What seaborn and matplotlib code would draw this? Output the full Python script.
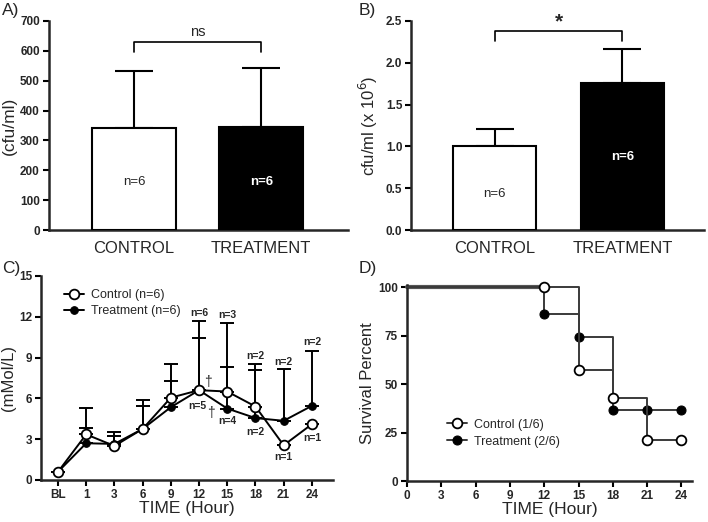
import matplotlib
matplotlib.use('Agg')
import matplotlib.pyplot as plt
import numpy as np
import pandas as pd
import seaborn as sns

sns.set_style('ticks')
plt.rcParams['font.family'] = ['Liberation Sans', 'DejaVu Sans']

# ---- data ----
groups = ['CONTROL', 'TREATMENT']
cfu_a = [341, 345]
cfu_a_sd = [192, 197]
cfu_b = [1.00, 1.76]
cfu_b_sd = [0.21, 0.40]

time_labels = ['BL', '1', '3', '6', '9', '12', '15', '18', '21', '24']
ctrl_lac = [0.6, 3.35, 2.5, 3.75, 6.05, 6.6, 6.5, 5.4, 2.55, 4.1]
trt_lac = [0.6, 2.7, 2.65, 3.75, 5.35, 6.6, 5.25, 4.55, 4.35, 5.45]
ctrl_lac_up = [0, 5.3, 3.5, 5.9, 8.55, 11.7, 11.55, 8.5, 0, 0]
trt_lac_up = [0, 3.8, 3.2, 5.45, 7.3, 10.4, 8.3, 8.05, 8.15, 9.5]

surv_time = [0, 12, 15, 18, 21, 24]
surv_ctrl = [100, 100, 57.1, 42.9, 21.4, 21.4]
surv_trt = [100, 86, 74, 36.5, 36.5, 36.5]

fig = plt.figure(figsize=(7.08, 5.22), dpi=100)
axA = fig.add_axes([0.069, 0.559, 0.423, 0.401])
axB = fig.add_axes([0.581, 0.559, 0.414, 0.401])
axC = fig.add_axes([0.058, 0.0805, 0.412, 0.391])
axD = fig.add_axes([0.575, 0.0785, 0.403, 0.375])

TICK_FS = 8.5


def style(ax):
    sns.despine(ax=ax)
    for s in ['left', 'bottom']:
        ax.spines[s].set_linewidth(1.8)
    ax.tick_params(width=1.5, length=4, color='black', pad=2.5)
    for t in ax.get_yticklabels():
        t.set_fontweight('bold')
        t.set_fontsize(TICK_FS)


# ---- A ----
sns.barplot(x=groups, y=cfu_a, palette=['white', 'black'], hue=groups, legend=False,
            edgecolor='black', linewidth=1.5, width=0.66, ax=axA, zorder=3)
axA.errorbar([0, 1], cfu_a, yerr=[[0, 0], cfu_a_sd], fmt='none', ecolor='black',
             elinewidth=1.5, capsize=14, capthick=1.5, zorder=2)
axA.set_xlim(-0.67, 1.685)
axA.set_ylim(0, 700)
axA.set_yticks(range(0, 701, 100))
axA.set_ylabel('(cfu/ml)', fontsize=12.5, labelpad=2)
axA.plot([0, 0, 1, 1], [595, 628, 628, 595], color='black', lw=1.2, clip_on=False)
axA.text(0.5, 664, 'ns', ha='center', va='center', fontsize=10.5)
axA.text(0, 162, 'n=6', ha='center', va='center', fontsize=9.5)
axA.text(1, 162, 'n=6', ha='center', va='center', fontsize=9.5, color='white', fontweight='bold')
style(axA)
axA.tick_params(axis='x', length=0, labelsize=12, pad=8)

# ---- B ----
sns.barplot(x=groups, y=cfu_b, palette=['white', 'black'], hue=groups, legend=False,
            edgecolor='black', linewidth=1.5, width=0.65, ax=axB, zorder=3)
axB.errorbar([0, 1], cfu_b, yerr=[[0, 0], cfu_b_sd], fmt='none', ecolor='black',
             elinewidth=1.5, capsize=14, capthick=1.5, zorder=2)
axB.set_xlim(-0.655, 1.643)
axB.set_ylim(0, 2.5)
axB.set_yticks(np.arange(0, 2.51, 0.5))
axB.set_yticklabels([f'{v:.1f}' for v in np.arange(0, 2.51, 0.5)])
axB.set_ylabel('cfu/ml (x 10$^{6}$)', fontsize=12, labelpad=4)
axB.plot([0, 0, 1, 1], [2.26, 2.376, 2.376, 2.26], color='black', lw=1.2, clip_on=False)
axB.text(0.5, 2.49, '*', ha='center', va='center', fontsize=15, fontweight='bold')
axB.text(0, 0.43, 'n=6', ha='center', va='center', fontsize=9.5)
axB.text(1, 0.88, 'n=6', ha='center', va='center', fontsize=9.5, color='white', fontweight='bold')
style(axB)
axB.tick_params(axis='x', length=0, labelsize=12, pad=8)

# ---- C ----
pos = np.arange(len(time_labels))
dfc = pd.DataFrame({'pos': np.concatenate([pos, pos]),
                    'val': ctrl_lac + trt_lac,
                    'grp': ['Control (n=6)'] * len(pos) + ['Treatment (n=6)'] * len(pos)})
up_c = np.clip(np.array(ctrl_lac_up) - np.array(ctrl_lac), 0, None)
up_t = np.clip(np.array(trt_lac_up) - np.array(trt_lac), 0, None)
axC.errorbar(pos, trt_lac, yerr=[np.zeros(len(pos)), up_t], fmt='none', ecolor='black',
             elinewidth=1.4, capsize=5, capthick=1.4, zorder=1)
axC.errorbar(pos, ctrl_lac, yerr=[np.zeros(len(pos)), up_c], fmt='none', ecolor='black',
             elinewidth=1.4, capsize=5, capthick=1.4, zorder=1)
sns.lineplot(data=dfc[dfc.grp == 'Treatment (n=6)'], x='pos', y='val', color='black', lw=1.4,
             marker='o', markersize=5.5, markerfacecolor='black', markeredgecolor='black',
             label='Treatment (n=6)', ax=axC, zorder=3)
sns.lineplot(data=dfc[dfc.grp == 'Control (n=6)'], x='pos', y='val', color='black', lw=1.4,
             marker='o', markersize=7, markerfacecolor='white', markeredgecolor='black',
             markeredgewidth=1.3, label='Control (n=6)', ax=axC, zorder=4)
h, l = axC.get_legend_handles_labels()
axC.legend(h[::-1], l[::-1], loc='upper left', bbox_to_anchor=(0.04, 0.99), frameon=False,
           fontsize=9, handlelength=1.6, labelspacing=0.3, handletextpad=0.6)
axC.set_xlim(-0.6, 9.74)
axC.set_ylim(0, 15)
axC.set_yticks(range(0, 16, 3))
axC.set_xticks(pos)
axC.set_xticklabels(time_labels, fontweight='bold', fontsize=TICK_FS)
axC.set_xlabel('TIME (Hour)', fontsize=12.5, labelpad=0)
axC.set_ylabel('(mMol/L)', fontsize=12, labelpad=2)
nfs = dict(ha='center', va='center', fontsize=7.5, fontweight='bold')
axC.text(5, 12.3, 'n=6', **nfs)
axC.text(6, 12.15, 'n=3', **nfs)
axC.text(7, 9.1, 'n=2', **nfs)
axC.text(8, 8.7, 'n=2', **nfs)
axC.text(9, 10.15, 'n=2', **nfs)
axC.text(4.95, 5.45, 'n=5', **nfs)
axC.text(6, 4.37, 'n=4', **nfs)
axC.text(7, 3.5, 'n=2', **nfs)
axC.text(8, 1.67, 'n=1', **nfs)
axC.text(9, 3.12, 'n=1', **nfs)
axC.text(5.3, 7.2, '†', ha='center', va='center', fontsize=10)
axC.text(5.42, 4.95, '†', ha='center', va='center', fontsize=10)
style(axC)

# ---- D ----
gray = '#3a3a3a'
axD.plot([0, 12], [100, 100], color='#555555', lw=3, clip_on=False, zorder=2)
sns.lineplot(x=surv_time, y=surv_trt, drawstyle='steps-post', color=gray, lw=1.4,
             marker='o', markevery=slice(1, None), markersize=6.5,
             markerfacecolor='black', markeredgecolor='black',
             label='Treatment (2/6)', ax=axD, zorder=3, clip_on=False)
sns.lineplot(x=surv_time, y=surv_ctrl, drawstyle='steps-post', color=gray, lw=1.4,
             marker='o', markevery=slice(1, None), markersize=7,
             markerfacecolor='white', markeredgecolor='black', markeredgewidth=1.3,
             label='Control (1/6)', ax=axD, zorder=4, clip_on=False)
hd, ld = axD.get_legend_handles_labels()
axD.legend(hd[::-1], ld[::-1], loc='center left', bbox_to_anchor=(0.1, 0.245), frameon=False,
           fontsize=9, handlelength=1.6, labelspacing=0.4, handletextpad=0.6)
axD.set_xlim(0, 24.96)
axD.set_ylim(0, 100.9)
axD.set_xticks(range(0, 25, 3))
axD.set_yticks(range(0, 101, 25))
axD.set_xticklabels([str(v) for v in range(0, 25, 3)], fontweight='bold', fontsize=TICK_FS)
axD.set_xlabel('TIME (Hour)', fontsize=12.5, labelpad=0)
axD.set_ylabel('Survival Percent', fontsize=12, labelpad=2)
style(axD)

for x, y, s in [(0.003, 0.995, 'A)'), (0.506, 0.995, 'B)'), (0.003, 0.5, 'C)'), (0.506, 0.5, 'D)')]:
    fig.text(x, y, s, fontsize=12.5, ha='left', va='top')

fig.savefig('out.png', dpi=100)
